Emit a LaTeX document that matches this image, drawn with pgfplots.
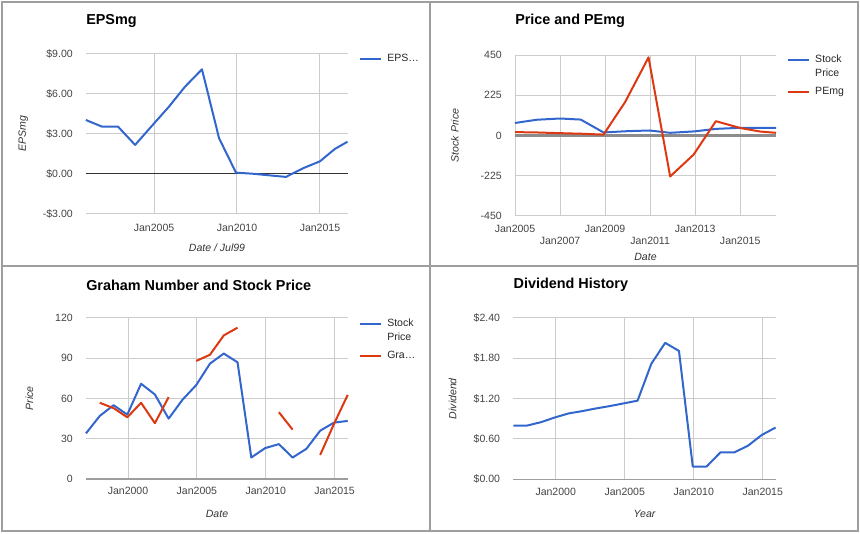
\documentclass[border=0pt]{standalone}
\usepackage{fontspec}
\setmainfont{Liberation Sans}
\usepackage{pgfplots}
\pgfplotsset{compat=1.18}

\definecolor{gblue}{HTML}{3366CC}
\definecolor{gred}{HTML}{DC3912}
\definecolor{ggrid}{HTML}{CCCCCC}
\definecolor{gtick}{HTML}{444444}
\definecolor{gframe}{HTML}{9E9E9E}
\definecolor{gbase}{HTML}{8C8C8C}

% one Google-style chart panel; 1px = 0.75pt
\pgfplotsset{
  gpanel/.style={
    scale only axis, clip=false, anchor=south west,
    axis line style={draw=none}, major tick length=0pt, tick style={draw=none},
    xmajorgrids, ymajorgrids,
    major grid style={draw=ggrid, line width=0.75pt},
    tick label style={font=\fontsize{7.9}{9}\selectfont, text=gtick, inner sep=0pt},
    yticklabel style={anchor=east, xshift=-9.75pt},
    xticklabel style={anchor=base},
    title style={anchor=west, inner sep=0pt, font=\bfseries\fontsize{10.8}{12}\selectfont},
    label style={font=\itshape\fontsize{7.9}{9}\selectfont, text=black!80, inner sep=0pt, anchor=center},
    legend style={draw=none, fill=none, inner sep=0pt, anchor=north west,
      font=\fontsize{7.9}{10.3}\selectfont, text=black!85,
      cells={anchor=west, align=left}, nodes={inner sep=0pt},
      column sep=3.75pt, row sep=6.75pt},
    every axis plot/.append style={line width=1.5pt, line join=round},
    legend image code/.code={\draw[##1] (0pt,0pt) -- (15.75pt,0pt);},
  },
  twoline/.style={legend image code/.code={\path (0pt,-5.15pt); \draw[##1] (0pt,5.15pt) -- (15.75pt,5.15pt);}},
}

\begin{document}
\begin{tikzpicture}
\useasboundingbox (0pt,0pt) rectangle (645pt,400.5pt);
\draw[gframe, line width=1.1pt] (1.5pt,2.25pt) rectangle (643.5pt,399pt);
\draw[gframe, line width=1.5pt] (322.5pt,2.25pt) -- (322.5pt,399pt);
\draw[gframe, line width=0.8pt] (1.5pt,201pt) -- (643.5pt,201pt);

% ---------- EPSmg ----------
\begin{axis}[gpanel, at={(64.5pt,240pt)}, width=196.5pt, height=120pt,
  xmin=2000.9, xmax=2016.69, ymin=-3, ymax=9,
  xtick={2005,2010,2015}, xticklabels={Jan2005,Jan2010,Jan2015},
  ytick={-3,0,3,6,9}, yticklabels={-\$3.00,\$0.00,\$3.00,\$6.00,\$9.00},
  extra y ticks={0}, extra y tick labels={},
  extra y tick style={major grid style={draw=black!80, line width=0.75pt}},
  xticklabel style={yshift=-13.4pt},
  title={EPSmg}, title style={at={(axis description cs:0,1.154)}},
  xlabel={Date / Jul99}, xlabel style={at={(axis description cs:0.5,-0.2125)}},
  ylabel={EPSmg}, ylabel style={at={(axis description cs:-0.239,0.5)}},
  legend style={at={(axis description cs:1.042,0.969)}, anchor=west},
]
\addplot[gblue] coordinates {(2000.89,4.05) (2001.87,3.55) (2002.83,3.55) (2003.86,2.18)
  (2004.88,3.62) (2005.9,5.05) (2006.87,6.55) (2007.89,7.85) (2008.92,2.68) (2009.94,0.1)
  (2010.94,0.02) (2011.94,-0.1) (2012.95,-0.22) (2013.98,0.43) (2015.0,0.95) (2015.9,1.88)
  (2016.66,2.42)};
\addlegendentry{EPS…}
\end{axis}

% ---------- Price and PEmg ----------
\begin{axis}[gpanel, at={(386.25pt,238.5pt)}, width=195.75pt, height=120.75pt,
  xmin=2005, xmax=2016.59, ymin=-450, ymax=450,
  xtick={2005,2009,2013}, xticklabels={Jan2005,Jan2009,Jan2013},
  extra x ticks={2007,2011,2015}, extra x tick labels={Jan2007,Jan2011,Jan2015},
  extra x tick style={grid=major, xticklabel style={yshift=-9pt}},
  ytick={-450,-225,0,225,450}, yticklabels={-450,-225,0,225,450},
  extra y ticks={0}, extra y tick labels={},
  extra y tick style={major grid style={draw=gbase, line width=2.25pt}},
  xticklabel style={yshift=-12.4pt},
  title={Price and PEmg}, title style={at={(axis description cs:0,1.16)}},
  xlabel={Date}, xlabel style={at={(axis description cs:0.5,-0.253)}},
  ylabel={Stock Price}, ylabel style={at={(axis description cs:-0.23,0.5)}},
  legend style={at={(axis description cs:1.042,1.0)}},
]
\addplot[gblue, twoline] coordinates {(2005.0,70) (2005.96,88) (2007.0,95) (2007.92,89)
  (2008.93,17) (2009.96,24) (2010.97,28) (2011.89,15) (2012.97,23) (2013.92,37)
  (2015.0,43) (2016.59,42)};
\addlegendentry{Stock\\Price}
\addplot[gred] coordinates {(2005.0,19) (2005.96,17) (2007.0,13) (2007.92,10) (2008.93,5)
  (2009.89,187) (2010.93,437) (2011.89,-229) (2012.93,-107) (2013.92,80) (2015.0,42)
  (2015.89,22) (2016.59,15)};
\addlegendentry{PEmg}
\end{axis}

% ---------- Graham Number and Stock Price ----------
\begin{axis}[gpanel, at={(64.5pt,41.25pt)}, width=196.5pt, height=120.75pt,
  xmin=1996.95, xmax=2015.97, ymin=0, ymax=120,
  xtick={2000,2005,2010,2015}, xticklabels={Jan2000,Jan2005,Jan2010,Jan2015},
  ytick={0,30,60,90,120}, yticklabels={0,30,60,90,120},
  extra y ticks={0}, extra y tick labels={},
  extra y tick style={major grid style={draw=gframe, line width=1.1pt}},
  xticklabel style={yshift=-11.9pt},
  title={Graham Number and Stock Price}, title style={at={(axis description cs:0,1.156)}},
  xlabel={Date}, xlabel style={at={(axis description cs:0.5,-0.216)}},
  ylabel={Price}, ylabel style={at={(axis description cs:-0.216,0.5)}},
  legend style={at={(axis description cs:1.042,0.996)}},
]
\addplot[gblue, twoline] coordinates {(1996.95,34) (1997.95,47) (1998.95,55) (1999.95,48)
  (2000.95,71) (2001.95,63) (2002.95,45) (2003.95,59) (2004.95,70) (2005.95,86)
  (2006.95,93.5) (2007.95,87) (2008.95,16) (2009.95,23) (2010.95,26) (2011.95,16)
  (2012.95,22.5) (2013.95,36) (2014.95,42) (2015.95,43.3)};
\addlegendentry{Stock\\Price}
\addplot[gred, unbounded coords=jump] coordinates {(1997.95,56.8) (1998.95,52.8)
  (1999.95,46) (2000.95,56.8) (2001.95,41.6) (2002.95,61) (2003.95,nan)
  (2004.95,88) (2005.95,92.6) (2006.95,107) (2007.95,112.8) (2008.95,nan)
  (2010.95,49.8) (2011.95,36.8) (2012.95,nan)
  (2013.95,17.9) (2014.95,41) (2015.95,62.7)};
\addlegendentry{Gra…}
\end{axis}

% ---------- Dividend History ----------
\begin{axis}[gpanel, at={(385pt,41pt)}, width=196.8pt, height=121pt,
  xmin=1996.93, xmax=2015.94, ymin=0, ymax=2.4,
  xtick={2000,2005,2010,2015}, xticklabels={Jan2000,Jan2005,Jan2010,Jan2015},
  ytick={0,0.6,1.2,1.8,2.4}, yticklabels={\$0.00,\$0.60,\$1.20,\$1.80,\$2.40},
  extra y ticks={0}, extra y tick labels={},
  extra y tick style={major grid style={draw=gframe, line width=1.1pt}},
  xticklabel style={yshift=-12.4pt},
  title={Dividend History}, title style={at={(axis description cs:0,1.156)}},
  xlabel={Year}, xlabel style={at={(axis description cs:0.5,-0.214)}},
  ylabel={Dividend}, ylabel style={at={(axis description cs:-0.231,0.5)}},
]
\addplot[gblue] coordinates {(1996.93,0.80) (1997.93,0.80) (1998.93,0.85) (1999.93,0.92)
  (2000.93,0.98) (2001.93,1.015) (2002.93,1.055) (2003.93,1.09) (2004.93,1.13)
  (2005.93,1.17) (2006.93,1.72) (2007.93,2.03) (2008.93,1.91) (2009.93,0.19)
  (2010.93,0.19) (2011.93,0.40) (2012.93,0.40) (2013.93,0.50) (2014.93,0.66)
  (2015.93,0.77)};
\end{axis}
\end{tikzpicture}
\end{document}
